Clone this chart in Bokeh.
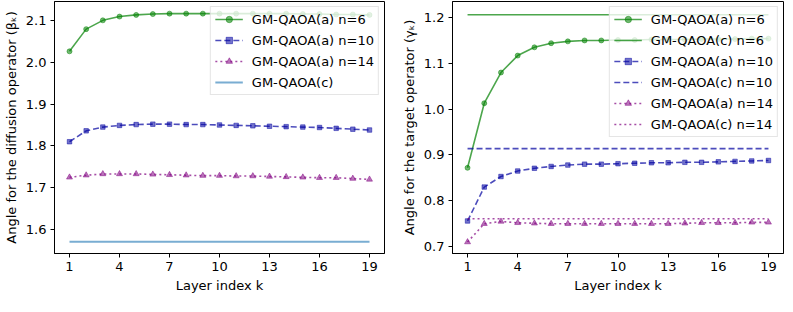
from bokeh.plotting import figure
from bokeh.layouts import row
from bokeh.models import FixedTicker, Range1d, PrintfTickFormatter
from bokeh.embed import file_html
from bokeh.resources import INLINE

# ---------------- data ----------------
k = list(range(1, 20))
x_ticks = [1, 4, 7, 10, 13, 16, 19]

beta_a6 = [2.026, 2.079, 2.100, 2.109, 2.113, 2.115, 2.116, 2.116, 2.116, 2.116,
           2.116, 2.116, 2.116, 2.116, 2.115, 2.115, 2.114, 2.114, 2.113]
beta_a10 = [1.810, 1.836, 1.845, 1.849, 1.851, 1.852, 1.852, 1.851, 1.851, 1.850,
            1.849, 1.848, 1.847, 1.846, 1.845, 1.844, 1.842, 1.840, 1.838]
beta_a14 = [1.725, 1.730, 1.733, 1.733, 1.733, 1.732, 1.731, 1.730, 1.729, 1.729,
            1.728, 1.728, 1.727, 1.726, 1.725, 1.724, 1.724, 1.722, 1.720]
beta_c = [1.5708] * len(k)
beta_ticks = [1.6, 1.7, 1.8, 1.9, 2.0, 2.1]

gamma_a6 = [0.872, 1.013, 1.080, 1.117, 1.135, 1.144, 1.148, 1.150, 1.150, 1.151,
            1.151, 1.152, 1.152, 1.152, 1.153, 1.153, 1.153, 1.154, 1.154]
gamma_c6 = [1.206] * len(k)
gamma_a10 = [0.756, 0.830, 0.853, 0.865, 0.871, 0.875, 0.878, 0.880, 0.880, 0.881,
             0.882, 0.883, 0.883, 0.884, 0.884, 0.885, 0.886, 0.887, 0.888]
gamma_c10 = [0.914] * len(k)
gamma_a14 = [0.710, 0.750, 0.755, 0.752, 0.751, 0.750, 0.750, 0.750, 0.750, 0.750,
             0.750, 0.750, 0.750, 0.751, 0.752, 0.752, 0.752, 0.753, 0.753]
gamma_c14 = [0.761] * len(k)
gamma_ticks = [0.7, 0.8, 0.9, 1.0, 1.1, 1.2]

GREEN = "#008000"
BLUE = "#0000a0"
PURPLE = "#800080"
LBLUE = "#1f77b4"
FONT = "DejaVu Sans"


def style(p, yticks, ylabel):
    p.xaxis.ticker = FixedTicker(ticks=x_ticks)
    p.yaxis.ticker = FixedTicker(ticks=yticks)
    p.yaxis.formatter = PrintfTickFormatter(format="%.1f")
    p.xgrid.visible = False
    p.ygrid.visible = False
    p.outline_line_color = "black"
    p.outline_line_width = 1
    for ax in (p.xaxis, p.yaxis):
        ax.axis_line_color = "black"
        ax.major_tick_out = 4
        ax.major_tick_in = 0
        ax.minor_tick_line_color = None
        ax.major_label_text_font = FONT
        ax.major_label_text_font_size = "13px"
        ax.major_label_text_color = "black"
        ax.major_label_standoff = 4
        ax.axis_label_text_font = FONT
        ax.axis_label_text_font_size = "13px"
        ax.axis_label_text_font_style = "normal"
        ax.axis_label_text_color = "black"
        ax.axis_label_standoff = 4
    p.xaxis.axis_label = "Layer index k"
    p.yaxis.axis_label = ylabel
    p.yaxis.major_label_orientation = "horizontal"


def series(p, y, color, dash, marker, size, label):
    p.line(k, y, line_color=color, line_alpha=0.7, line_width=1.6,
           line_dash=dash, legend_label=label)
    p.scatter(k, y, marker=marker, size=size, fill_color=color, fill_alpha=0.55,
              line_color=color, line_alpha=0.6, line_width=0.8, legend_label=label)


def legend_style(p):
    lg = p.legend[0]
    lg.location = "top_right"
    lg.margin = 5
    lg.padding = 4
    lg.spacing = 5
    lg.label_height = 16
    lg.glyph_height = 16
    lg.glyph_width = 28
    lg.label_standoff = 9
    lg.label_text_font = FONT
    lg.label_text_font_size = "13px"
    lg.label_text_color = "black"
    lg.border_line_color = "#cccccc"
    lg.border_line_width = 1
    lg.background_fill_alpha = 0.8


# ---------------- left ----------------
p1 = figure(frame_width=330, frame_height=252, output_backend="svg",
            toolbar_location=None, x_range=Range1d(0.1, 19.9),
            y_range=Range1d(1.543, 2.145),
            min_border_left=50, min_border_right=14, min_border_top=1,
            min_border_bottom=10)
style(p1, beta_ticks, "Angle for the diffusion operator (βₖ)")
series(p1, beta_a6, GREEN, "solid", "circle", 5, "GM-QAOA(a) n=6")
series(p1, beta_a10, BLUE, "6 3", "square", 4.5, "GM-QAOA(a) n=10")
series(p1, beta_a14, PURPLE, "2 3", "triangle", 6, "GM-QAOA(a) n=14")
p1.line(k, beta_c, line_color=LBLUE, line_alpha=0.6, line_width=2,
        legend_label="GM-QAOA(c)")
legend_style(p1)

# ---------------- right ----------------
p2 = figure(frame_width=331, frame_height=252, output_backend="svg",
            toolbar_location=None, x_range=Range1d(0.1, 19.9),
            y_range=Range1d(0.685, 1.235),
            min_border_left=52, min_border_right=2, min_border_top=1,
            min_border_bottom=10)
style(p2, gamma_ticks, "Angle for the target operator (γₖ)")
series(p2, gamma_a6, GREEN, "solid", "circle", 5, "GM-QAOA(a) n=6")
p2.line(k, gamma_c6, line_color=GREEN, line_alpha=0.7, line_width=1.6,
        legend_label="GM-QAOA(c) n=6")
series(p2, gamma_a10, BLUE, "6 3", "square", 4.5, "GM-QAOA(a) n=10")
p2.line(k, gamma_c10, line_color=BLUE, line_alpha=0.7, line_width=1.6,
        line_dash="6 3", legend_label="GM-QAOA(c) n=10")
series(p2, gamma_a14, PURPLE, "2 3", "triangle", 6, "GM-QAOA(a) n=14")
p2.line(k, gamma_c14, line_color=PURPLE, line_alpha=0.7, line_width=1.6,
        line_dash="2 3", legend_label="GM-QAOA(c) n=14")
legend_style(p2)

layout = row(p1, p2, spacing=0)
open("out.html", "w").write(file_html(layout, INLINE))
